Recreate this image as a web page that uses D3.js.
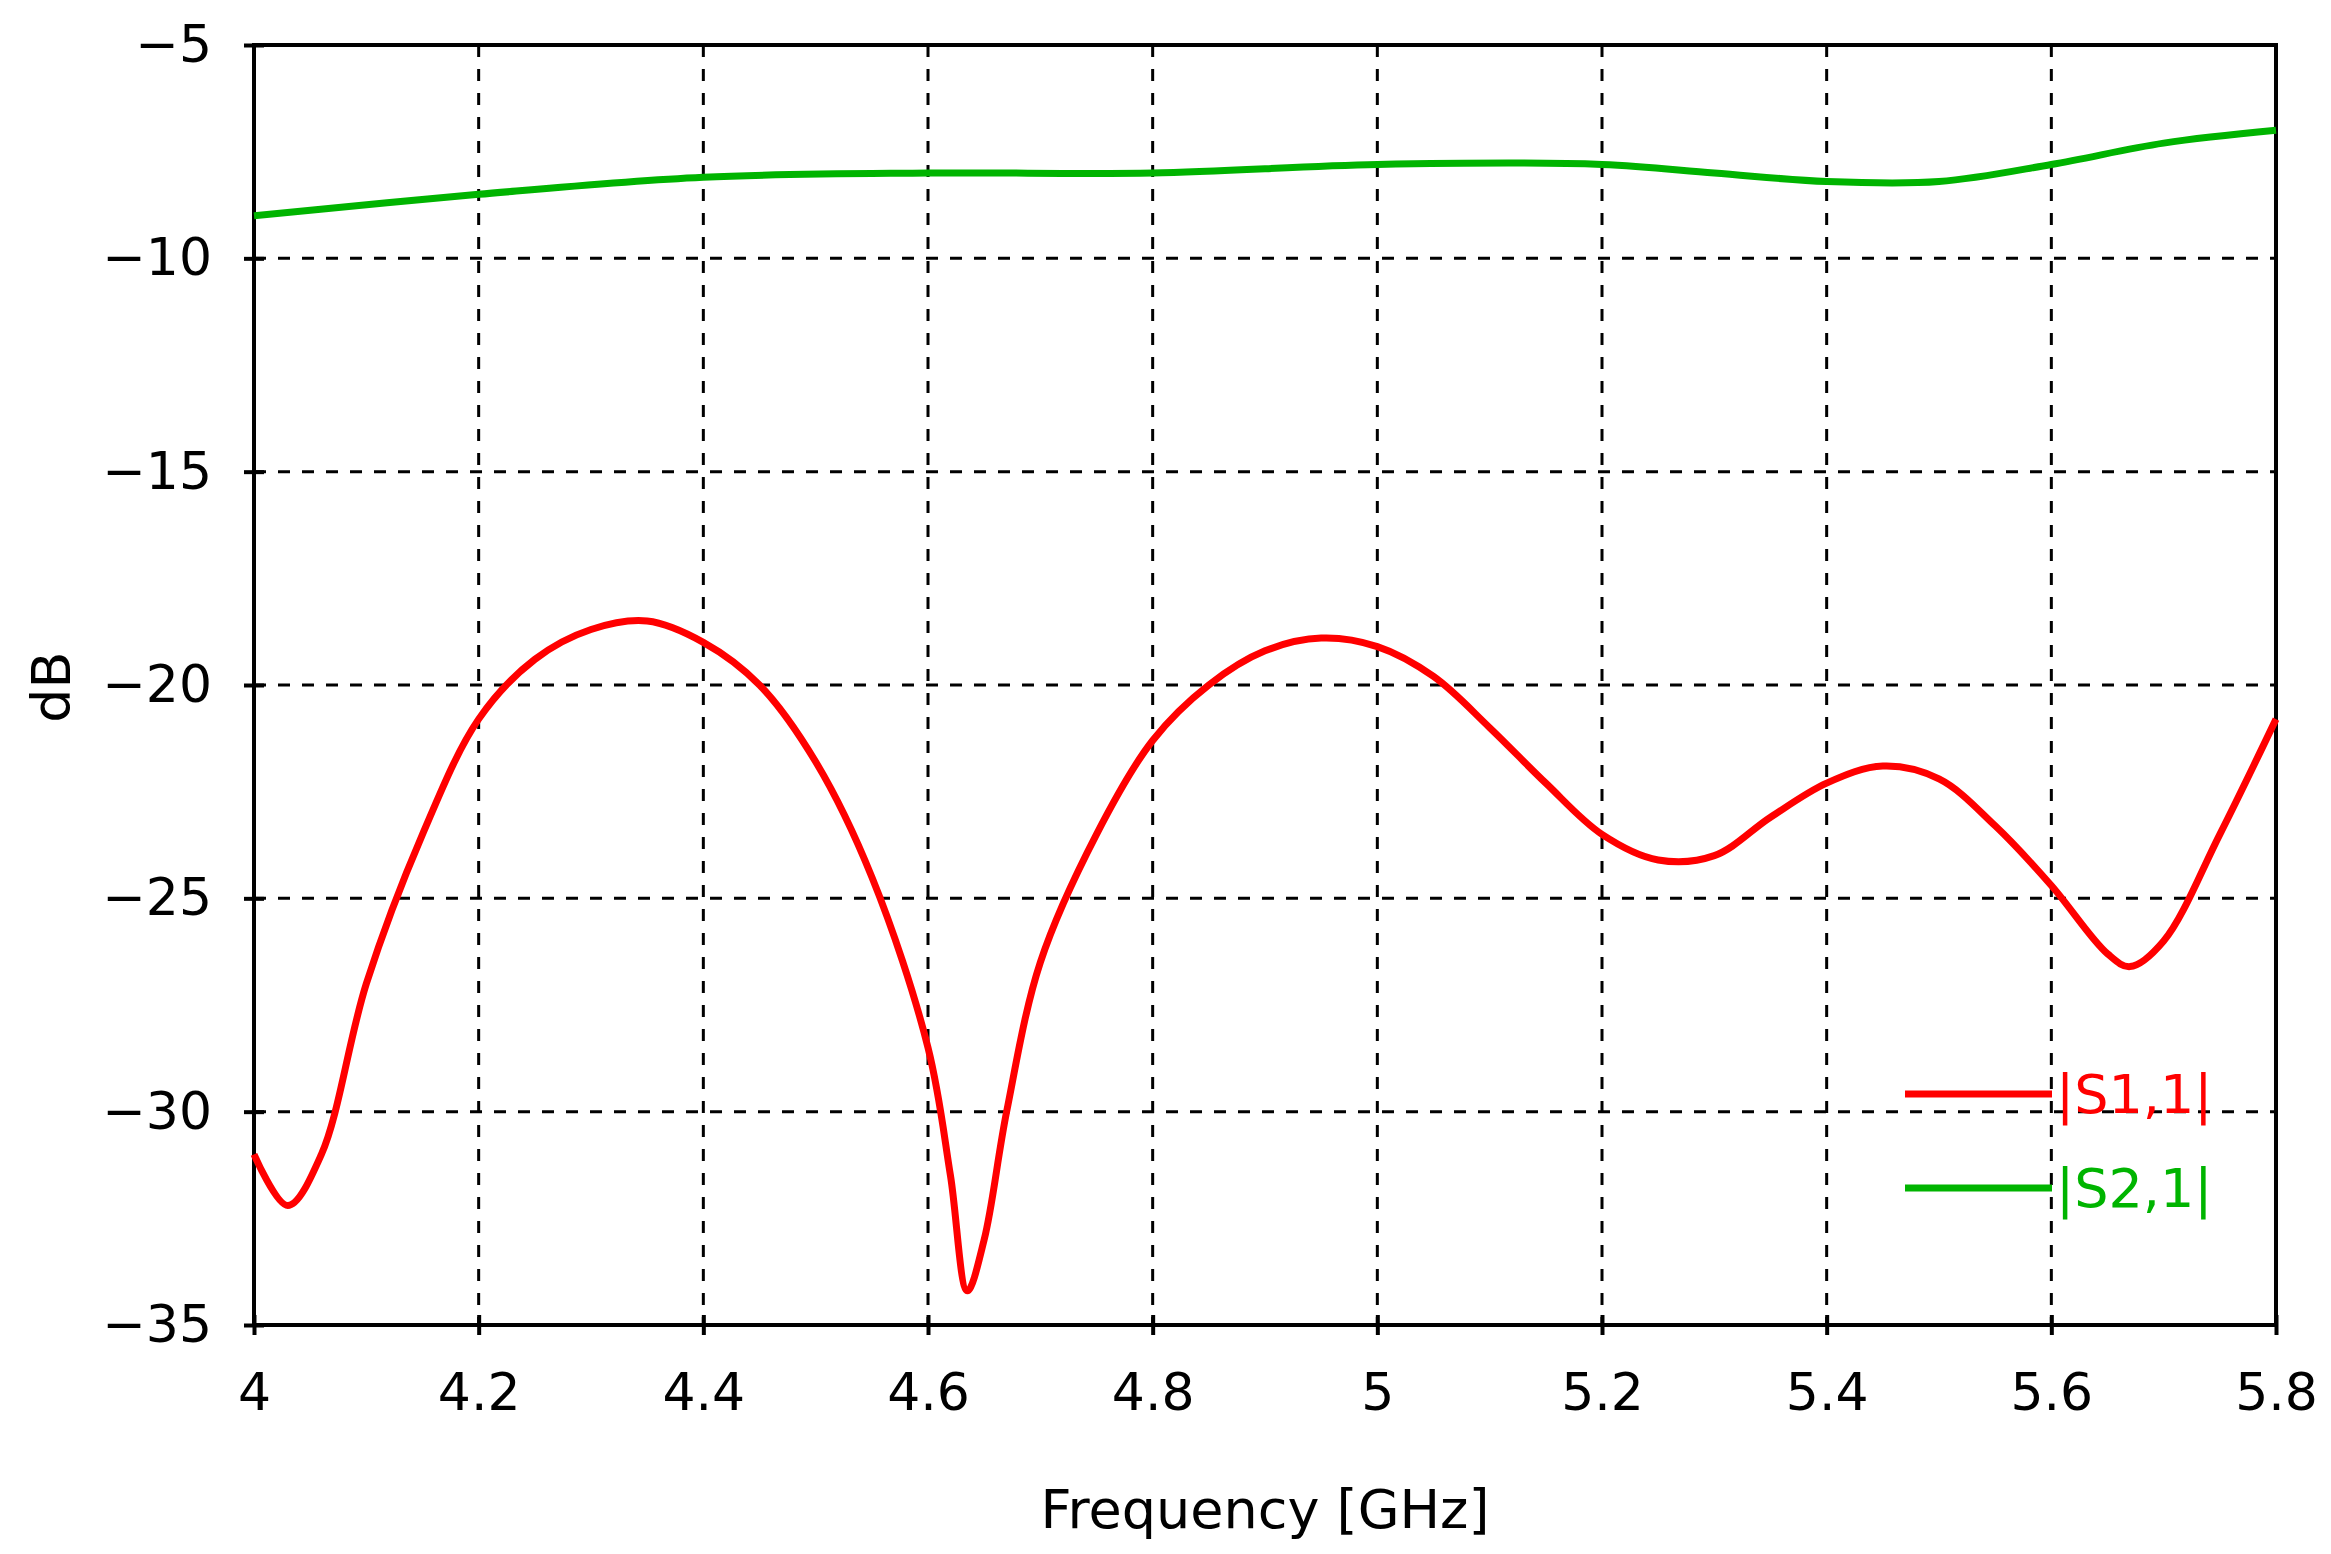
<!DOCTYPE html><html><head><meta charset="utf-8">
<script src="https://cdn.jsdelivr.net/npm/d3@7"></script>
<style>body{margin:0;background:#fff}text{font-family:"DejaVu Sans",Verdana,sans-serif}</style></head><body>
<svg id="c" width="2331" height="1554"></svg>
<script>
const xTicks=[4,4.2,4.4,4.6,4.8,5,5.2,5.4,5.6,5.8];
const yTicks=[-35,-30,-25,-20,-15,-10,-5];
const s11F=[4.0,4.03,4.06,4.1,4.15,4.2,4.25,4.3,4.35,4.4,4.45,4.5,4.55,4.6,4.62,4.635,4.65,4.67,4.7,4.75,4.8,4.85,4.9,4.95,5.0,5.05,5.1,5.15,5.2,5.25,5.3,5.35,5.4,5.45,5.5,5.55,5.6,5.65,5.67,5.7,5.75,5.8];
const s11V=[-31,-32.2,-31,-27,-23.5,-20.8,-19.4,-18.7,-18.5,-19.0,-20,-21.8,-24.5,-28.5,-31.5,-34.2,-33,-30,-26.5,-23.5,-21.3,-20,-19.2,-18.9,-19.1,-19.8,-21,-22.3,-23.5,-24.1,-24,-23.1,-22.3,-21.9,-22.2,-23.3,-24.7,-26.3,-26.6,-26.0,-23.5,-20.8];
const s21F=[4.0,4.2,4.4,4.6,4.8,5.0,5.2,5.3,5.4,5.5,5.6,5.7,5.8];
const s21V=[-9.0,-8.5,-8.1,-8.0,-8.0,-7.8,-7.8,-8.0,-8.2,-8.2,-7.8,-7.3,-7.0];
const svg=d3.select("#c");
const L=254,R=2276,T=45,B=1325;
const x=d3.scaleLinear().domain([4,5.8]).range([L,R]);
const y=d3.scaleLinear().domain([-35,-5]).range([B,T]);
const g=svg.append("g");
g.selectAll(".vg").data(xTicks.slice(1,-1)).join("line").attr("x1",d=>x(d)).attr("x2",d=>x(d)).attr("y1",T).attr("y2",B).attr("stroke","#000").attr("stroke-width",3).attr("stroke-dasharray","12,12");
g.selectAll(".hg").data(yTicks.slice(1,-1)).join("line").attr("y1",d=>y(d)).attr("y2",d=>y(d)).attr("x1",L).attr("x2",R).attr("stroke","#000").attr("stroke-width",3).attr("stroke-dasharray","12,12");
svg.append("rect").attr("x",L).attr("y",T).attr("width",R-L).attr("height",B-T).attr("fill","none").attr("stroke","#000").attr("stroke-width",4);
const ax=svg.append("g").attr("transform",`translate(0,${B})`).call(d3.axisBottom(x).tickValues(xTicks).tickFormat(d3.format("")).tickSize(20).tickPadding(28));
const ay=svg.append("g").attr("transform",`translate(${L},0)`).call(d3.axisLeft(y).tickValues(yTicks).tickFormat(d=>d3.format("")(d).replace("-","\u2212")).tickSize(20).tickPadding(22));
[ax,ay].forEach(a=>{a.select(".domain").remove();a.selectAll("line").attr("stroke-width",4);a.selectAll("text").attr("font-size",52).attr("fill","#000");});
ax.selectAll(".tick line").attr("transform","translate(0,-10)");
ay.selectAll(".tick line").attr("transform","translate(10,0)");
const line=d3.line().x(d=>x(d[0])).y(d=>y(d[1])).curve(d3.curveCatmullRom);
svg.append("path").datum(s21F.map((f,i)=>[f,s21V[i]])).attr("d",line).attr("fill","none").attr("stroke","#00b400").attr("stroke-width",7);
svg.append("path").datum(s11F.map((f,i)=>[f,s11V[i]])).attr("d",line).attr("fill","none").attr("stroke","#ff0000").attr("stroke-width",7);
const leg=[["|S1,1|","#ff0000",1094],["|S2,1|","#00b400",1188]];
leg.forEach(([t,c,yy])=>{svg.append("line").attr("x1",1905).attr("x2",2052).attr("y1",yy).attr("y2",yy).attr("stroke",c).attr("stroke-width",7);
svg.append("text").attr("x",2056).attr("y",yy+19).attr("font-size",54).attr("fill",c).text(t);});
svg.append("text").attr("x",(L+R)/2).attr("y",1528).attr("text-anchor","middle").attr("font-size",54).text("Frequency [GHz]");
svg.append("text").attr("transform","translate(70,687) rotate(-90)").attr("text-anchor","middle").attr("font-size",54).text("dB");
</script></body></html>
